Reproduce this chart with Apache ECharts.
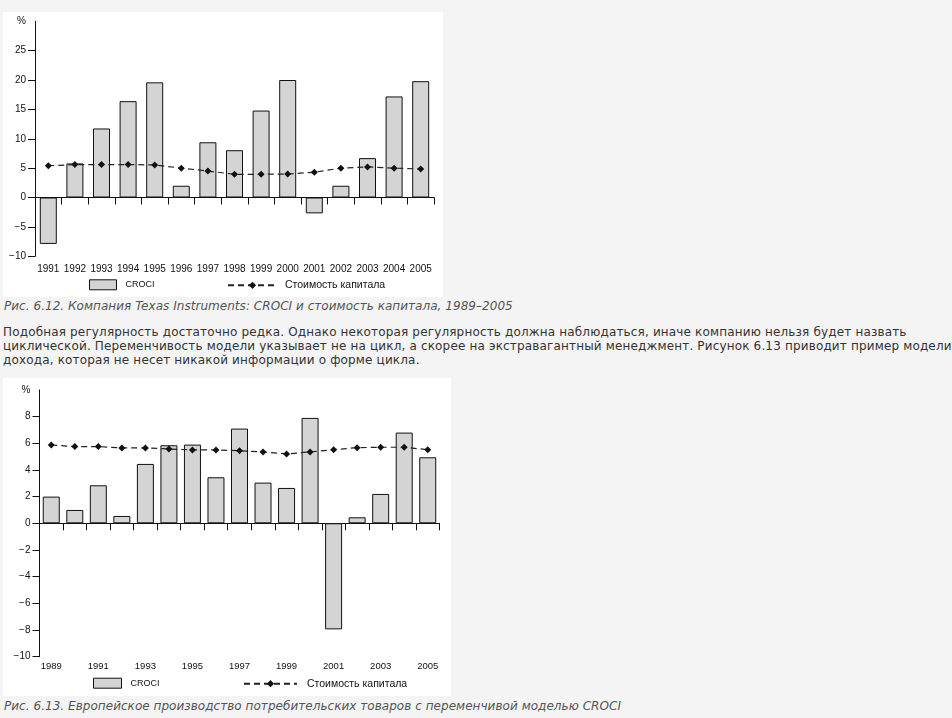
<!DOCTYPE html>
<html><head><meta charset="utf-8">
<script src="https://cdn.jsdelivr.net/npm/echarts@6/dist/echarts.min.js"></script>
<style>
html,body{margin:0;padding:0;background:#f4f4f4;width:952px;height:718px;overflow:hidden;}
.box{position:absolute;background:#fff;}
#c1{left:3px;top:12px;width:440px;height:285px;}
#c2{left:3px;top:378px;width:448px;height:318px;}
.cap{position:absolute;left:4px;font-family:"DejaVu Sans";font-style:italic;font-size:12px;line-height:14px;color:#555;white-space:nowrap;letter-spacing:0.04px;}
.para{position:absolute;left:3px;font-family:"DejaVu Sans";font-size:12px;line-height:14px;color:#333;white-space:nowrap;letter-spacing:0.16px;}
</style></head>
<body>
<div id="c1" class="box"></div>
<div class="cap" style="top:299px">Рис. 6.12. Компания Texas Instruments: CROCI и стоимость капитала, 1989–2005</div>
<div class="para" style="top:325px">Подобная регулярность достаточно редка. Однако некоторая регулярность должна наблюдаться, иначе компанию нельзя будет назвать<br>циклической. Переменчивость модели указывает не на цикл, а скорее на экстравагантный менеджмент. Рисунок 6.13 приводит пример модели<br>дохода, которая не несет никакой информации о форме цикла.</div>
<div id="c2" class="box"></div>
<div class="cap" style="top:699px">Рис. 6.13. Европейское производство потребительских товаров с переменчивой моделью CROCI</div>
<script>
const years1 = ['1991','1992','1993','1994','1995','1996','1997','1998','1999','2000','2001','2002','2003','2004','2005'];
const croci1 = [-7.9, 5.8, 11.75, 16.4, 19.6, 2.0, 9.4, 8.05, 14.8, 20.0, -2.7, 2.0, 6.7, 17.2, 19.8];
const cost1 = [5.4, 5.6, 5.6, 5.6, 5.55, 5.0, 4.5, 3.95, 3.95, 4.0, 4.3, 5.0, 5.2, 5.0, 4.85];
const yTicks1 = [-10, -5, 0, 5, 10, 15, 20, 25];
const yMax1 = 30;

const years2 = ['1989','1990','1991','1992','1993','1994','1995','1996','1997','1998','1999','2000','2001','2002','2003','2004','2005'];
const croci2 = [2.0, 1.0, 2.85, 0.55, 4.45, 5.85, 5.9, 3.45, 7.1, 3.05, 2.65, 7.9, -7.95, 0.45, 2.2, 6.8, 4.95];
const cost2 = [5.87, 5.75, 5.75, 5.65, 5.65, 5.57, 5.5, 5.5, 5.44, 5.35, 5.2, 5.35, 5.52, 5.67, 5.7, 5.7, 5.52];
const yTicks2 = [-10, -8, -6, -4, -2, 0, 2, 4, 6, 8];
const yMax2 = 10;

const seriesNames = ['CROCI', 'Стоимость капитала'];

function build(c) {
  const ink = '#111';
  return {
    animation: false,
    grid: {left: c.left, top: c.top, width: c.width, height: c.height},
    legend: [
      {data: [seriesNames[0]], left: c.lg1.left, top: c.lg1.top, itemWidth: c.lg1.w, itemHeight: 10,
       icon: 'rect', selectedMode: false, padding: 0,
       itemStyle: {color: '#d4d4d4', borderColor: ink, borderWidth: 1},
       textStyle: {fontFamily: '"Liberation Sans Narrow", "Liberation Sans"', fontSize: 9, color: ink, padding: [0, 0, 0, c.lg1.gap]}},
      {data: [seriesNames[1]], left: c.lg2.left, top: c.lg2.top, itemWidth: c.lg2.w, itemHeight: 9,
       selectedMode: false, padding: 0,
       textStyle: {fontFamily: '"Liberation Sans"', fontSize: 10.5, color: ink, padding: [0, 0, 0, c.lg2.gap]}}
    ],
    xAxis: [
      {type: 'category', data: c.years, position: 'bottom', boundaryGap: true,
       axisLine: {onZero: true, lineStyle: {color: ink, width: 1}},
       axisTick: {show: true, interval: 0, length: 7, lineStyle: {color: ink}},
       axisLabel: {show: false}, splitLine: {show: false}},
      {type: 'category', data: c.years, position: 'bottom', boundaryGap: true,
       axisLine: {show: false, onZero: false}, axisTick: {show: false},
       axisLabel: {interval: c.labelInterval, margin: c.xMargin, fontFamily: c.xFont, fontSize: c.xSize, color: ink},
       splitLine: {show: false}}
    ],
    yAxis: {type: 'value', min: c.yTicks[0], max: c.yMax,
      axisLine: {show: true, lineStyle: {color: ink, width: 1}},
      axisTick: {show: true, length: 7, customValues: c.yTicks, lineStyle: {color: ink}},
      axisLabel: {customValues: c.yTicks.concat([c.yMax]), margin: 9, fontFamily: '"Liberation Sans"', fontSize: 10, color: ink,
        formatter: v => v === c.yMax ? '%' : (v < 0 ? '\u2212' + Math.abs(v) : String(v))},
      splitLine: {show: false}},
    series: [
      {name: seriesNames[0], type: 'bar', xAxisIndex: 0, data: c.croci, barWidth: 17,
       itemStyle: {color: '#d4d4d4', borderColor: ink, borderWidth: 1}},
      {name: seriesNames[1], type: 'line', xAxisIndex: 0, data: c.cost, symbol: 'diamond', symbolSize: 7,
       itemStyle: {color: ink}, lineStyle: {color: '#222', width: 1.2, type: [6, 4]}, z: 5}
    ]
  };
}

const ch1 = echarts.init(document.getElementById('c1'));
ch1.setOption(build({
  left: 32, top: 9.25, width: 399, height: 235,
  years: years1, croci: croci1, cost: cost1, yTicks: yTicks1, yMax: yMax1,
  labelInterval: 0, xMargin: 7.5, xFont: '"Liberation Sans Narrow", "Liberation Sans"', xSize: 10,
  lg1: {left: 86, top: 267.3, w: 27, gap: 4},
  lg2: {left: 224, top: 267.8, w: 49, gap: 3}
}));

const ch2 = echarts.init(document.getElementById('c2'));
ch2.setOption(build({
  left: 36.5, top: 11.9, width: 400, height: 266.8,
  years: years2, croci: croci2, cost: cost2, yTicks: yTicks2, yMax: yMax2,
  labelInterval: 1, xMargin: 4.5, xFont: '"Liberation Sans"', xSize: 9.5,
  lg1: {left: 90, top: 299.7, w: 28, gap: 4},
  lg2: {left: 240, top: 300.2, w: 53, gap: 5}
}));
</script>
</body></html>
